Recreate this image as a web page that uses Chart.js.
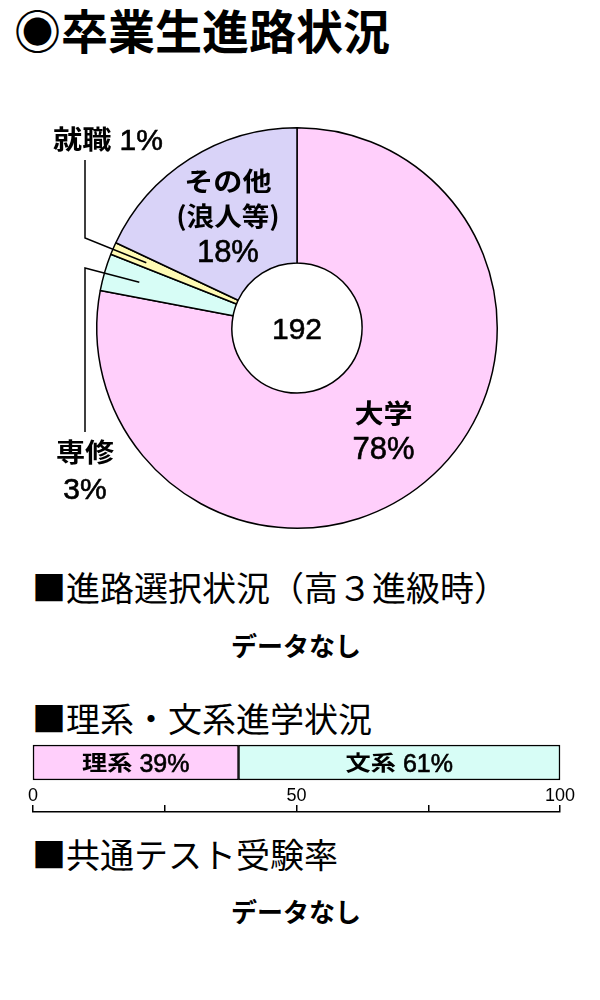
<!DOCTYPE html>
<html><head><meta charset="utf-8">
<script src="https://cdn.jsdelivr.net/npm/chart.js@4.4.1/dist/chart.umd.min.js"></script>
<style>
html,body{margin:0;padding:0;background:#fff;}
body{width:600px;height:1000px;position:relative;overflow:hidden;font-family:'Noto Sans CJK JP',sans-serif;color:#000;}
.t{position:absolute;white-space:nowrap;line-height:1;}
#title{left:14px;top:5px;font-size:47px;font-weight:700;}
.h{left:32px;font-size:34px;font-weight:400;}
.nd{left:0;width:592px;text-align:center;font-size:26px;font-weight:700;}
canvas{position:absolute;left:0;}
#pie{top:90px;}
#bar{top:738px;}
#axis{top:787px;}
</style></head>
<body>
<div id="title" class="t">◉卒業生進路状況</div>
<div class="t h" style="top:570px">■進路選択状況（高３進級時）</div>
<div class="t nd" style="top:632px">データなし</div>
<div class="t h" style="top:701px">■理系・文系進学状況</div>
<div class="t h" style="top:837px">■共通テスト受験率</div>
<div class="t nd" style="top:898px">データなし</div>
<canvas id="pie" width="600" height="480"></canvas>
<canvas id="bar" width="600" height="50"></canvas>
<canvas id="axis" width="600" height="80"></canvas>
<script>
// ---- data ----
const pieLabels = ['大学', '専修', '就職', 'その他'];
const pieSubLabels = ['', '', '', '(浪人等)'];
const pieValues = [78, 3, 1, 18];
const pieColors = ['#ffcffb', '#d7fdf6', '#fffbb4', '#d9d3f8'];
const totalCount = 192;
const courseLabels = ['理系', '文系'];
const courseValues = [39, 61];
const courseColors = ['#ffcffb', '#d7fdf6'];
const axisTickLabels = [0, 50, 100];

const CJK = "'Noto Sans CJK JP', sans-serif";
const NUM = "'Liberation Sans', Arial, sans-serif";
const cjk = s => `700 ${s}px ${CJK}`;
const num = s => `400 ${s}px ${NUM}`;

function drawRuns(ctx, runs, cx, cy) {
  let w = 0;
  runs.forEach(r => { ctx.font = r.f; r.w = ctx.measureText(r.t).width * (r.sx || 1); w += r.w; });
  let x = cx - w / 2;
  ctx.textAlign = 'left';
  ctx.textBaseline = 'alphabetic';
  runs.forEach(r => {
    ctx.font = r.f;
    ctx.save();
    ctx.translate(x, cy + 0.37 * r.s);
    ctx.scale(r.sx || 1, 1);
    ctx.fillText(r.t, 0, 0);
    if (r.bold) { ctx.lineWidth = r.bold; ctx.strokeStyle = '#000'; ctx.strokeText(r.t, 0, 0); }
    ctx.restore();
    x += r.w;
  });
}
const cRun = (t, s, sx) => ({t, f: cjk(s), s, sx: sx || 1.12});
const nRun = (t, s) => ({t, f: num(s), s, bold: 0.6});

// layout for labels of small slices (outside with leader lines), canvas coords
const outsideLayout = {
  2: {lines: [[0, 49]], inline: true, line: [[85, 70], [85, 148]]},
  1: {lines: [[85, 362], [85, 398]], inline: false, line: [[85, 342], [85, 178]]}
};

const pieLabelPlugin = {
  id: 'pieLabels',
  afterDatasetsDraw(chart) {
    const ctx = chart.ctx;
    const arcs = chart.getDatasetMeta(0).data;
    ctx.save();
    ctx.fillStyle = '#000';
    ctx.strokeStyle = '#000';
    const a0 = arcs[0];
    drawRuns(ctx, [nRun(String(totalCount), 30)], a0.x, a0.y);
    arcs.forEach((arc, i) => {
      const pct = pieValues[i] + '%';
      if (pieValues[i] >= 10) {
        const c = arc.getCenterPoint();
        const lines = [[cRun(pieLabels[i], 26)]];
        if (pieSubLabels[i]) lines.push([cRun(pieSubLabels[i], 26, 1.06)]);
        lines.push([nRun(pct, 31)]);
        const lh = 34.5;
        const y0 = c.y - (lines.length - 1) * lh / 2;
        lines.forEach((ln, k) => drawRuns(ctx, ln, c.x + 2, y0 + k * lh));
      } else {
        const L = outsideLayout[i];
        const mid = (arc.startAngle + arc.endAngle) / 2;
        const r = arc.outerRadius * 0.82;
        const px = arc.x + Math.cos(mid) * r, py = arc.y + Math.sin(mid) * r;
        ctx.lineWidth = 1.5;
        ctx.beginPath();
        ctx.moveTo(L.line[0][0], L.line[0][1]);
        ctx.lineTo(L.line[1][0], L.line[1][1]);
        ctx.lineTo(px, py);
        ctx.stroke();
        if (L.inline) {
          drawRuns(ctx, [cRun(pieLabels[i], 26), nRun(' ' + pct, 30)], 108, L.lines[0][1]);
        } else {
          drawRuns(ctx, [cRun(pieLabels[i], 26)], L.lines[0][0], L.lines[0][1]);
          drawRuns(ctx, [nRun(pct, 30)], L.lines[1][0], L.lines[1][1]);
        }
      }
    });
    ctx.restore();
  }
};

new Chart(document.getElementById('pie'), {
  type: 'doughnut',
  data: {
    labels: pieLabels,
    datasets: [{
      data: pieValues,
      backgroundColor: pieColors,
      borderColor: '#000',
      borderWidth: 1.5
    }]
  },
  options: {
    responsive: false,
    animation: false,
    events: [],
    cutout: '32.5%',
    layout: {padding: {left: 96, right: 102, top: 37, bottom: 41}},
    plugins: {legend: {display: false}, tooltip: {enabled: false}}
  },
  plugins: [pieLabelPlugin]
});

const barLabelPlugin = {
  id: 'barLabels',
  afterDatasetsDraw(chart) {
    const ctx = chart.ctx;
    ctx.save();
    ctx.fillStyle = '#000';
    chart.data.datasets.forEach((ds, i) => {
      const bar = chart.getDatasetMeta(i).data[0];
      const cx = (bar.x + bar.base) / 2;
      drawRuns(ctx, [cRun(courseLabels[i], 21, 1.2), nRun(' ' + courseValues[i] + '%', 25)], cx, bar.y);
    });
    ctx.restore();
  }
};

new Chart(document.getElementById('bar'), {
  type: 'bar',
  data: {
    labels: [''],
    datasets: courseLabels.map((l, i) => ({
      label: l,
      data: [courseValues[i]],
      backgroundColor: courseColors[i],
      borderColor: '#000',
      borderWidth: 1.5,
      borderSkipped: false,
      barPercentage: 1,
      categoryPercentage: 1,
      clip: false
    }))
  },
  options: {
    indexAxis: 'y',
    responsive: false,
    animation: false,
    events: [],
    layout: {padding: {left: 33, right: 40, top: 7, bottom: 8}},
    scales: {
      x: {display: false, stacked: true, min: 0, max: 100},
      y: {display: false, stacked: true}
    },
    plugins: {legend: {display: false}, tooltip: {enabled: false}}
  },
  plugins: [barLabelPlugin]
});

new Chart(document.getElementById('axis'), {
  type: 'scatter',
  data: {datasets: []},
  options: {
    responsive: false,
    animation: false,
    events: [],
    layout: {padding: {left: 33, right: 40, top: 0, bottom: 0}},
    scales: {
      x: {
        type: 'linear', position: 'top', min: 0, max: 100,
        ticks: {
          stepSize: 25, autoSkip: false, maxRotation: 0, padding: 0, color: '#000',
          font: {family: NUM, size: 18, lineHeight: 1},
          callback: v => axisTickLabels.includes(v) ? String(v) : ''
        },
        grid: {drawOnChartArea: false, drawTicks: true, tickLength: 7, color: '#000', lineWidth: 1.5},
        border: {display: true, color: '#000', width: 1.5}
      },
      y: {display: false}
    },
    plugins: {legend: {display: false}, tooltip: {enabled: false}}
  }
});
</script>
</body></html>
